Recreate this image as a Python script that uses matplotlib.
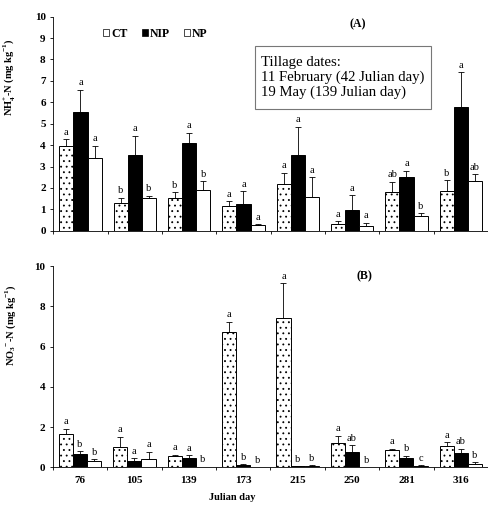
import matplotlib
matplotlib.use("Agg")
import matplotlib.pyplot as plt
from matplotlib.patches import Rectangle
import numpy as np

plt.rcParams['font.family'] = ['Liberation Serif', 'DejaVu Serif']
plt.rcParams['hatch.linewidth'] = 0.6
plt.rcParams['hatch.color'] = '#333333'
plt.rcParams['mathtext.fontset'] = 'custom'
plt.rcParams['mathtext.rm'] = 'Liberation Serif'
plt.rcParams['mathtext.bf'] = 'Liberation Serif:bold'

days = ["76", "105", "139", "173", "215", "250", "281", "316"]
series = ["CT", "NIP", "NP"]

# Panel A: NH4+-N
nh4_ct = [3.95, 1.31, 1.55, 1.15, 2.16, 0.30, 1.82, 1.85]
nh4_ct_err = [0.32, 0.24, 0.24, 0.22, 0.54, 0.15, 0.46, 0.51]
nh4_nip = [5.53, 3.56, 4.10, 1.24, 3.54, 0.99, 2.50, 5.80]
nh4_nip_err = [1.06, 0.87, 0.47, 0.61, 1.32, 0.66, 0.31, 1.60]
nh4_np = [3.42, 1.51, 1.90, 0.25, 1.57, 0.23, 0.70, 2.30]
nh4_np_err = [0.56, 0.11, 0.40, 0.05, 0.92, 0.14, 0.12, 0.34]
nh4_letters = [["a", "b", "b", "a", "a", "a", "ab", "b"],
               ["a", "a", "a", "a", "a", "a", "a", "a"],
               ["a", "b", "b", "a", "a", "a", "b", "ab"]]

# Panel B: NO3--N
no3_ct = [1.66, 1.00, 0.58, 6.73, 7.44, 1.20, 0.86, 1.06]
no3_ct_err = [0.25, 0.53, 0.05, 0.50, 1.70, 0.36, 0.07, 0.20]
no3_nip = [0.65, 0.32, 0.45, 0.12, 0.05, 0.76, 0.45, 0.73]
no3_nip_err = [0.16, 0.13, 0.15, 0.03, 0.01, 0.34, 0.13, 0.20]
no3_np = [0.33, 0.43, 0.02, 0.0, 0.07, 0.0, 0.08, 0.18]
no3_np_err = [0.07, 0.35, 0.0, 0.0, 0.03, 0.0, 0.03, 0.07]
no3_letters = [["a", "a", "a", "a", "a", "a", "a", "a"],
               ["b", "a", "a", "b", "b", "ab", "b", "ab"],
               ["b", "a", "b", "b", "b", "b", "c", "b"]]

fig = plt.figure(figsize=(4.89, 5.09), dpi=100)
W, H = 489, 509
ax_a = fig.add_axes([53.3 / W, 1 - 230.7 / H, (488 - 53.3) / W, (230.7 - 16.7) / H])
ax_b = fig.add_axes([52.8 / W, 1 - 467.3 / H, (488 - 52.8) / W, (467.3 - 266.0) / H])

bw = 0.26
offsets = [-bw, 0, bw]
styles = [dict(facecolor="white", edgecolor="black", hatch="..."),
          dict(facecolor="black", edgecolor="black"),
          dict(facecolor="white", edgecolor="black")]


def draw(ax, vals, errs, letters, yticks):
    x = np.arange(len(days))
    handles = []
    for i in range(3):
        h = ax.bar(x + offsets[i], vals[i], width=bw, linewidth=0.7, **styles[i],
                   label=series[i], zorder=2)
        handles.append(h)
        v = np.array(vals[i])
        e = np.array(errs[i])
        mask = e > 0
        ax.errorbar(x[mask] + offsets[i], v[mask], yerr=[np.zeros(mask.sum()), e[mask]],
                    fmt="none", ecolor="black", elinewidth=0.6, capsize=2.5,
                    capthick=0.6, zorder=3)
        for j in range(len(days)):
            ax.text(x[j] + offsets[i], v[j] + e[j] + 0.12, letters[i][j],
                    ha="center", va="bottom", fontsize=7.5)
    ax.set_xlim(-0.5, len(days) - 0.5)
    ax.set_ylim(0, 10)
    ax.set_yticks(yticks)
    ax.set_yticklabels([str(t) for t in yticks], fontweight="bold", fontsize=8)
    ax.spines["top"].set_visible(False)
    ax.spines["right"].set_visible(False)
    ax.spines["left"].set_linewidth(0.6)
    ax.spines["bottom"].set_linewidth(0.6)
    ax.tick_params(axis="y", length=2.5, width=0.6, pad=3)
    ax.set_xticks(np.arange(-0.5, len(days) + 0.5, 1.0), minor=True)
    ax.tick_params(axis="x", which="minor", length=2, width=0.6)
    ax.set_xticks(x)
    ax.tick_params(axis="x", which="major", length=0, pad=6)
    return handles


handles = draw(ax_a, [nh4_ct, nh4_nip, nh4_np], [nh4_ct_err, nh4_nip_err, nh4_np_err],
               nh4_letters, list(range(0, 11)))
ax_a.set_xticklabels([])
draw(ax_b, [no3_ct, no3_nip, no3_np], [no3_ct_err, no3_nip_err, no3_np_err],
     no3_letters, list(range(0, 11, 2)))
ax_b.set_xticklabels(days, fontweight="bold", fontsize=8)

# legend
leg = fig.legend(handles=handles, labels=series, ncol=3, frameon=False,
                 loc="center left", bbox_to_anchor=(103 / W, 1 - 34 / H),
                 prop=dict(weight="bold", size=8.5), handlelength=0.55,
                 handleheight=0.55, handletextpad=0.15, columnspacing=1.18,
                 borderpad=0, borderaxespad=0)
for p in leg.get_patches():
    p.set_hatch(None)
    p.set_linewidth(0.5)

# tillage box
fig.patches.append(Rectangle((255 / W, 1 - 109 / H), (431 - 255) / W, (109 - 46) / H,
                             transform=fig.transFigure, facecolor="white",
                             edgecolor="#777777", linewidth=0.8, zorder=5))
fig.text(261.5 / W, 1 - 77.5 / H,
         "Tillage dates:\n11 February (42 Julian day)\n19 May (139 Julian day)",
         ha="left", va="center", fontsize=10.6, linespacing=1.12, zorder=6)

fig.text(358 / W, 1 - 24 / H, "(A)", ha="center", va="center", fontsize=8.5,
         fontweight="bold")
fig.text(364 / W, 1 - 276 / H, "(B)", ha="center", va="center", fontsize=8.5,
         fontweight="bold")

fig.text(10 / W, 1 - 77 / H, r"NH$_\mathbf{4}^\mathbf{+}$-N (mg kg$^\mathbf{-1}$)",
         rotation=90, ha="center", va="center", fontsize=7.5, fontweight="bold")
fig.text(11 / W, 1 - 325 / H, r"NO$_\mathbf{3}$$^\mathbf{-}$-N (mg kg$^\mathbf{-1}$)",
         rotation=90, ha="center", va="center", fontsize=7.5, fontweight="bold")
fig.text(232 / W, 1 - 497 / H, "Julian day", ha="center", va="center",
         fontsize=7.5, fontweight="bold")

fig.savefig("out.png", dpi=100)
